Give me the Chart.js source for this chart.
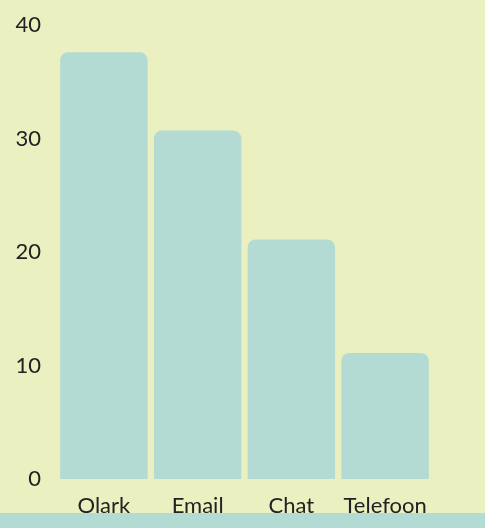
<!DOCTYPE html>
<html>
<head>
<meta charset="utf-8">
<script src="https://cdn.jsdelivr.net/npm/chart.js@4"></script>
<style>
    html, body { margin: 0; padding: 0; background: #eaf0c0; }
    .wrap { position: relative; width: 485px; height: 513px; }
    .strip { width: 485px; height: 15px; background: #b4dad4; }
</style>
</head>
<body>
<div class="wrap"><canvas id="kanalen"></canvas></div>
<div class="strip"></div>
<script>
// data
const categories = ["Olark", "Email", "Chat", "Telefoon"];
const aantallen = [37.6, 30.7, 21.1, 11.1];
const yMax = 40;
const yStep = 10;

new Chart(document.getElementById("kanalen"), {
    type: "bar",
    data: {
        labels: categories,
        datasets: [
            {
                label: "Aantal",
                data: aantallen,
                backgroundColor: "#b4dad4",
                borderRadius: { topLeft: 8, topRight: 8 },
                borderSkipped: false,
                barPercentage: 0.933,
                categoryPercentage: 1,
            },
        ],
    },
    options: {
        responsive: true,
        maintainAspectRatio: false,
        animation: false,
        layout: { padding: { top: 25, right: 53, left: 0, bottom: 0 } },
        plugins: {
            legend: { display: false },
            tooltip: { enabled: false },
        },
        scales: {
            x: {
                grid: { display: false, drawTicks: false },
                border: { display: false },
                ticks: {
                    color: "#222",
                    padding: 14,
                    font: { family: "Lato", size: 22 },
                },
                afterFit: (scale) => {
                    scale.height = 34;
                },
            },
            y: {
                min: 0,
                max: yMax,
                grid: { display: false, drawTicks: false },
                border: { display: false },
                ticks: {
                    stepSize: yStep,
                    color: "#222",
                    padding: 16,
                    font: { family: "Lato", size: 22 },
                },
                afterFit: (scale) => {
                    scale.width = 57;
                    scale.paddingTop = 0;
                    scale.paddingBottom = 0;
                },
            },
        },
    },
});
</script>
</body>
</html>
